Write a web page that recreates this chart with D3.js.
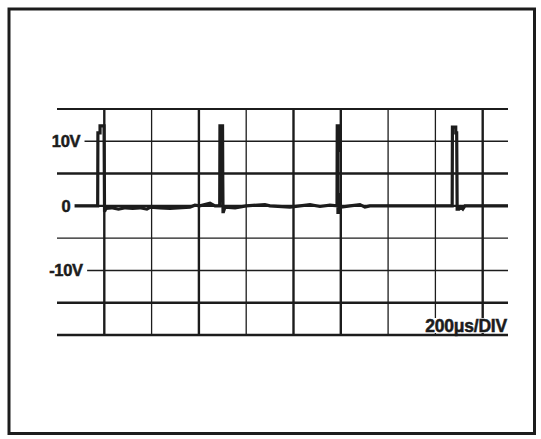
<!DOCTYPE html>
<html>
<head>
<meta charset="utf-8">
<script src="https://cdn.jsdelivr.net/npm/d3@7"></script>
<style>
  body { margin: 0; background: #fff; }
  text { font-family: "Liberation Sans", Arial, sans-serif; font-weight: bold; fill: #1c1c1c; stroke: #1c1c1c; stroke-width: 0.5px; }
</style>
</head>
<body>
<svg id="scope" width="541" height="439"></svg>
<script>
// time axis in microseconds, 200 us per division
var timeTicks = [200, 400, 600, 800, 1000, 1200, 1400, 1600, 1800];
// voltage grid, 5 V per division
var voltTicks = [15, 10, 5, 0, -5, -10, -15, -20];
var voltLabels = ["10V", "0", "-10V"];
var voltLabelValues = [10, 0, -10];
var timeLabel = "200\u03bcs/DIV";

// trace (us, V)
var traceTime = [0, 60, 120, 172, 173, 182, 182, 199, 201, 207, 230, 260, 290, 320, 350, 380, 395,
    435, 478, 562, 583, 604, 647, 668, 688, 689, 700, 701, 702, 704, 710, 753, 800, 879, 900, 985,
    1070, 1112, 1154, 1184, 1185, 1190, 1190, 1188, 1188, 1195, 1196, 1197, 1203, 1239, 1281, 1302,
    1323, 1450, 1600, 1671, 1672, 1686, 1686, 1690, 1692, 1700, 1708, 1716, 1725, 1907];
var traceVolts = [0, 0, 0, 0, 11.3, 11.3, 12.4, 12.4, -0.9, -0.4, -0.3, -0.5, -0.3, -0.4, -0.3, -0.5, -0.2,
    -0.3, -0.4, -0.2, 0.1, 0, 0.4, 0, 0, 12.4, 12.4, 4, -0.9, -0.9, -0.2, -0.3, 0, 0.2, 0, -0.2,
    0.2, -0.1, 0.1, 0, 12.4, 12.4, 8.6, 8.6, -1.0, -1.0, 2.0, 0, -0.2, 0, 0.2, -0.2,
    0, 0, 0, 0, 12.2, 12.2, 11.3, 11.3, -0.5, -0.5, -0.2, -0.5, 0, 0];

var heavyTimes = [200, 600, 1000, 1200, 1800];
var heavyVolts = [5, 0, -15, -20];

var svg = d3.select("#scope");
var ink = "#1c1c1c";

svg.append("rect")
    .attr("x", 9).attr("y", 9)
    .attr("width", 525.5).attr("height", 424.5)
    .attr("fill", "none")
    .attr("stroke", ink)
    .attr("stroke-width", 3);

var x = d3.scaleLinear().domain([0, 1907]).range([57, 508]);
var y = d3.scaleLinear().domain([-20, 15]).range([335, 109]);

var grid = svg.append("g");

grid.selectAll(".vline")
    .data(timeTicks)
    .enter().append("line")
    .attr("class", "vline")
    .attr("x1", function (d) { return x(d); })
    .attr("x2", function (d) { return x(d); })
    .attr("y1", y(15))
    .attr("y2", y(-20))
    .attr("stroke", ink)
    .attr("stroke-width", function (d) { return heavyTimes.indexOf(d) >= 0 ? 2.4 : 1.3; });

grid.selectAll(".hline")
    .data(voltTicks)
    .enter().append("line")
    .attr("class", "hline")
    .attr("x1", x(0))
    .attr("x2", x(1907))
    .attr("y1", function (d) { return y(d); })
    .attr("y2", function (d) { return y(d); })
    .attr("stroke", ink)
    .attr("stroke-width", function (d) {
        if (d === 15) return 2;
        return heavyVolts.indexOf(d) >= 0 ? 2.4 : 1.4;
    });

var trace = traceTime.map(function (t, i) { return [t, traceVolts[i]]; });

var line = d3.line()
    .x(function (d) { return x(d[0]); })
    .y(function (d) { return y(d[1]); });

svg.append("path")
    .datum(trace)
    .attr("d", line)
    .attr("fill", "none")
    .attr("stroke", ink)
    .attr("stroke-width", 3.2)
    .attr("stroke-linejoin", "miter");

// volt labels with white knock-out behind them
var labels = svg.append("g");
voltLabels.forEach(function (lab, i) {
    var g = labels.append("g");
    var bg = g.append("rect").attr("fill", "#fff");
    var t = g.append("text")
        .attr("x", 66)
        .attr("y", y(voltLabelValues[i]))
        .attr("dy", "0.36em")
        .attr("text-anchor", "middle")
        .attr("font-size", "16.5px")
        .attr("letter-spacing", "-0.3px")
        .text(lab);
    var b = t.node().getBBox();
    var left = Math.min(b.x - 4, x(0));
    bg.attr("x", left).attr("y", b.y).attr("width", b.x + b.width + 4 - left).attr("height", b.height);
});

var tg = svg.append("g");
var tbg = tg.append("rect").attr("fill", "#fff");
var tt = tg.append("text")
    .attr("x", 507)
    .attr("y", 332)
    .attr("text-anchor", "end")
    .attr("font-size", "17.5px")
    .attr("letter-spacing", "-0.2px")
    .text(timeLabel);
var tb = tt.node().getBBox();
tbg.attr("x", tb.x - 2).attr("y", tb.y + 2).attr("width", tb.width + 2).attr("height", 333 - tb.y - 2);
</script>
</body>
</html>
